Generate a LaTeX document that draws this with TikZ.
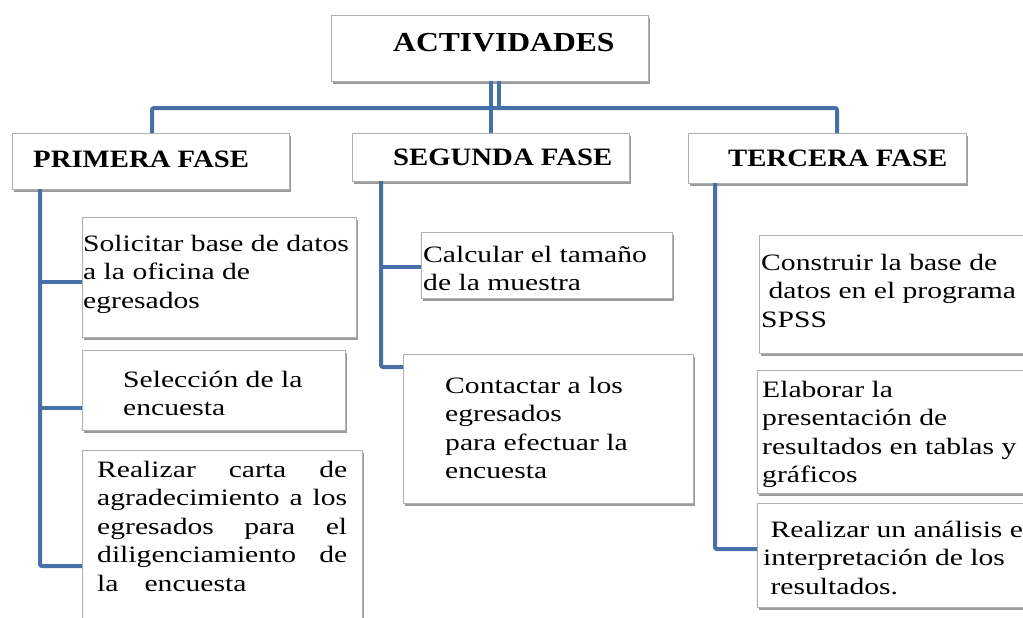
\documentclass[tikz,border=0pt]{standalone}
\usepackage{fontspec}
\setmainfont{Liberation Serif}
\newfontfamily\bodyf[FakeStretch=1.26]{Liberation Serif}
\newfontfamily\headf[FakeStretch=1.15]{Liberation Serif}
\usetikzlibrary{shadows}
\definecolor{linkblue}{RGB}{72,112,168}
\definecolor{boxgray}{RGB}{175,175,175}
\tikzset{
  box/.style={draw=boxgray, line width=0.8pt, fill=white, inner sep=0pt, outer sep=0pt,
    anchor=north west, drop shadow={shadow xshift=1.5pt, shadow yshift=-3pt, fill=black!70, opacity=0.55}},
  conn/.style={draw=linkblue, line width=4pt, rounded corners=2pt},
  body/.style={anchor=base west, inner sep=0pt, font=\bodyf\fontsize{23.5}{28.5}\selectfont},
  head/.style={anchor=base west, inner sep=0pt, font=\headf\bfseries\fontsize{25}{30}\selectfont},
}
\begin{document}
\begin{tikzpicture}[x=1pt,y=-1pt]
\clip (0,0) rectangle (1023,618);
\fill[white] (0,0) rectangle (1023,618);

% boxes
\node[box, minimum width=317pt, minimum height=66pt] (act) at (331,15) {};
\node[box, minimum width=277pt, minimum height=56pt] (p1) at (12,133) {};
\node[box, minimum width=277pt, minimum height=48pt] (s1) at (352,133) {};
\node[box, minimum width=278pt, minimum height=50pt] (t1) at (688,133) {};
\node[box, minimum width=274pt, minimum height=120pt] (a1) at (82,217) {};
\node[box, minimum width=263pt, minimum height=80pt] (a2) at (82,350) {};
\node[box, minimum width=280pt, minimum height=200pt] (a3) at (82,450) {};
\node[box, minimum width=251pt, minimum height=66pt] (b1) at (421,232) {};
\node[box, minimum width=290pt, minimum height=149pt] (b2) at (403,354) {};
\node[box, minimum width=290pt, minimum height=118pt] (c1) at (759,235) {};
\node[box, minimum width=290pt, minimum height=123pt] (c2) at (757,370) {};
\node[box, minimum width=290pt, minimum height=104pt] (c3) at (757,503) {};

% texts
\node[head, font=\headf\bfseries\fontsize{27.5}{32}\selectfont] (actT) at (393,52) {ACTIVIDADES};
\node[head] (p1T) at (33,167) {PRIMERA FASE};
\node[head] (s1T) at (393,165) {SEGUNDA FASE};
\node[head] (t1T) at (728,166) {TERCERA FASE};

\node[body] (a1T) at (83,251) {\vtop{\hbox{Solicitar base de datos}\hbox{a la oficina de}\hbox{egresados}}};
\node[body] (a2T) at (123,387) {\vtop{\hbox{Selección de la}\hbox{encuesta}}};
\node[body] (a3T) at (97,477) {\vtop{%
  \hbox to 250pt{Realizar\hfill carta\hfill de}%
  \hbox to 250pt{agradecimiento\hfill a\hfill los}%
  \hbox to 250pt{egresados\hfill para\hfill el}%
  \hbox to 250pt{diligenciamiento\hfill de}%
  \hbox{la\hspace{26pt}encuesta}}};
\node[body] (b1T) at (423,262) {\vtop{\hbox{Calcular el tamaño}\hbox{de la muestra}}};
\node[body] (b2T) at (445,393) {\vtop{\hbox{Contactar a los}\hbox{egresados}\hbox{para efectuar la}\hbox{encuesta}}};
\node[body] (c1T) at (761,270) {\vtop{\hbox{Construir la base de}\hbox{ datos en el programa}\hbox{SPSS}}};
\node[body] (c2T) at (762,397) {\vtop{\hbox{Elaborar la}\hbox{presentación de}\hbox{resultados en tablas y}\hbox{gráficos}}};
\node[body] (c3T) at (763,537) {\vtop{\hbox{ Realizar un análisis e}\hbox{interpretación de los}\hbox{ resultados.}}};

% connector coordinates
\coordinate (jl) at (152,108);
\coordinate (jr) at (837,108);
\coordinate (ja) at (491,108);
\coordinate (jb) at (499,108);
\coordinate (lx) at (40,0);
\coordinate (mx) at (381,0);
\coordinate (rx) at (715,0);
\coordinate (a1in) at ([yshift=-65pt]a1.north west);
\coordinate (a2in) at ([yshift=-58pt]a2.north west);
\coordinate (a3in) at ([yshift=-116pt]a3.north west);
\coordinate (b1in) at ([yshift=-35pt]b1.north west);
\coordinate (b2in) at ([yshift=-13pt]b2.north west);
\coordinate (c3in) at ([yshift=-46pt]c3.north west);

% connectors
\draw[conn] (jl |- p1.north) -- (jl) -- (jr) -- (jr |- t1.north);
\draw[conn] (ja |- act.south) -- (ja |- s1.north);
\draw[conn] (jb |- act.south) -- (jb);

\draw[conn] (lx |- p1.south) |- (a3in);
\draw[conn] (a1in -| lx) -- (a1in);
\draw[conn] (a2in -| lx) -- (a2in);

\draw[conn] (mx |- s1.south) |- (b2in);
\draw[conn] (b1in -| mx) -- (b1in);

\draw[conn] (rx |- t1.south) |- (c3in);
\end{tikzpicture}
\end{document}
